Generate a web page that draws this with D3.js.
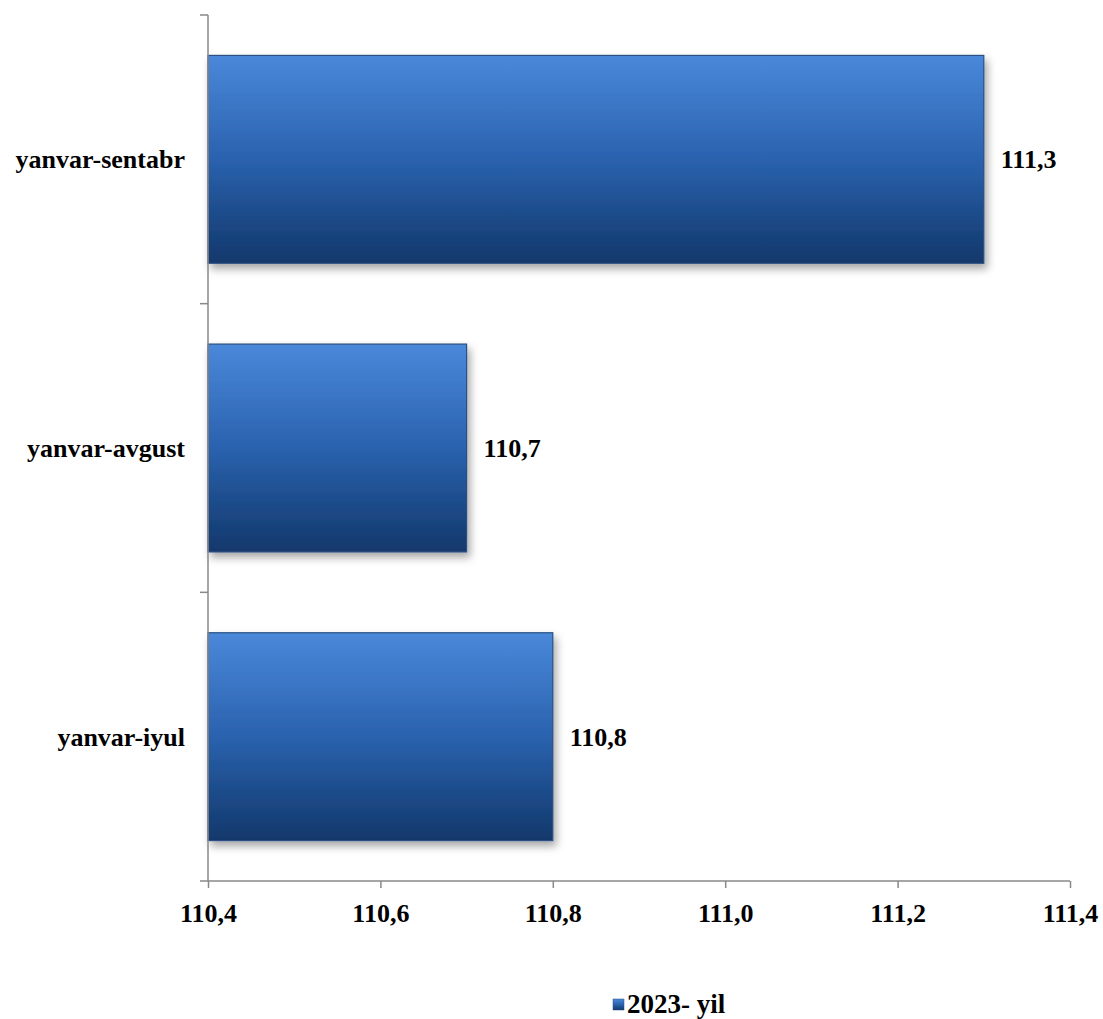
<!DOCTYPE html>
<html><head><meta charset="utf-8">
<script src="https://cdn.jsdelivr.net/npm/d3@7"></script>
<style>body{margin:0;background:#fff}svg{display:block}text{font-family:"Liberation Serif","Times New Roman",serif;font-weight:bold;fill:#000}</style>
</head><body>
<script>
const categories = ["yanvar-sentabr", "yanvar-avgust", "yanvar-iyul"];
const values = [111.3, 110.7, 110.8];
const valueLabels = ["111,3", "110,7", "110,8"];
const xTicks = [110.4, 110.6, 110.8, 111.0, 111.2, 111.4];
const seriesName = "2023- yil";

const W = 1103, H = 1019;
const svg = d3.select("body").append("svg").attr("width", W).attr("height", H);
const defs = svg.append("defs");
const grad = defs.append("linearGradient").attr("id","g").attr("x1",0).attr("y1",0).attr("x2",0).attr("y2",1);
grad.append("stop").attr("offset","0%").attr("stop-color","#4a88da");
grad.append("stop").attr("offset","50%").attr("stop-color","#2a62ae");
grad.append("stop").attr("offset","100%").attr("stop-color","#12386b");
const f = defs.append("filter").attr("id","sh").attr("x","-5%").attr("y","-5%").attr("width","115%").attr("height","130%");
f.append("feDropShadow").attr("dx",3).attr("dy",5).attr("stdDeviation",4).attr("flood-color","#000").attr("flood-opacity",0.35);

const x = d3.scaleLinear().domain([110.4, 111.4]).range([208, 1070]);
const y = d3.scaleBand().domain(categories).range([15, 881]).paddingInner(0.28).paddingOuter(0.14);

// bars
const g = svg.append("g");
g.selectAll("rect.bar").data(categories).join("rect")
  .attr("x", x(110.4))
  .attr("y", d => y(d))
  .attr("width", (d,i) => x(values[i]) - x(110.4))
  .attr("height", y.bandwidth())
  .attr("fill", "url(#g)")
  .attr("stroke", "#2b4f80").attr("stroke-width", 1.2)
  .attr("filter", "url(#sh)");

// value labels
g.selectAll("text.val").data(categories).join("text")
  .attr("x", (d,i) => x(values[i]) + 17)
  .attr("y", d => y(d) + y.bandwidth()/2)
  .attr("dy", "0.35em")
  .attr("font-size", 26)
  .text((d,i) => valueLabels[i]);

// y axis
const yAxisG = svg.append("g");
yAxisG.append("line").attr("x1",208).attr("x2",208).attr("y1",15).attr("y2",881).attr("stroke","#888").attr("stroke-width",1.5);
const yTickPos = [15, ...categories.map(c => y(c) + y.bandwidth() + y.step()*y.paddingInner()/2)];
yAxisG.selectAll("line.t").data(yTickPos).join("line")
  .attr("x1",200).attr("x2",208).attr("y1",d=>d).attr("y2",d=>d).attr("stroke","#888").attr("stroke-width",1.5);
yAxisG.selectAll("text").data(categories).join("text")
  .attr("x", 185).attr("y", d => y(d) + y.bandwidth()/2).attr("dy","0.35em")
  .attr("text-anchor","end").attr("font-size",26).text(d=>d);

// x axis
const xa = svg.append("g").attr("transform","translate(0,881)")
  .call(d3.axisBottom(x).tickValues(xTicks).tickSize(7).tickFormat(d => d3.format(".1f")(d).replace(".", ",")));
xa.select(".domain").attr("stroke","#888").attr("stroke-width",1.5).attr("d","M208,0H1070");
xa.selectAll(".tick line").attr("stroke","#888").attr("stroke-width",1.5);
xa.selectAll(".tick text").attr("font-size",26).attr("dy",0).attr("y",41).attr("font-family","Liberation Serif").attr("font-weight","bold").attr("fill","#000");

// legend
const lg = svg.append("g");
lg.append("rect").attr("x",613).attr("y",999).attr("width",11).attr("height",11).attr("fill","url(#g)").attr("stroke","#2b4f80").attr("stroke-width",0.5);
lg.append("text").attr("x",627).attr("y",1013).attr("font-size",27).text(seriesName);
</script>
</body></html>
